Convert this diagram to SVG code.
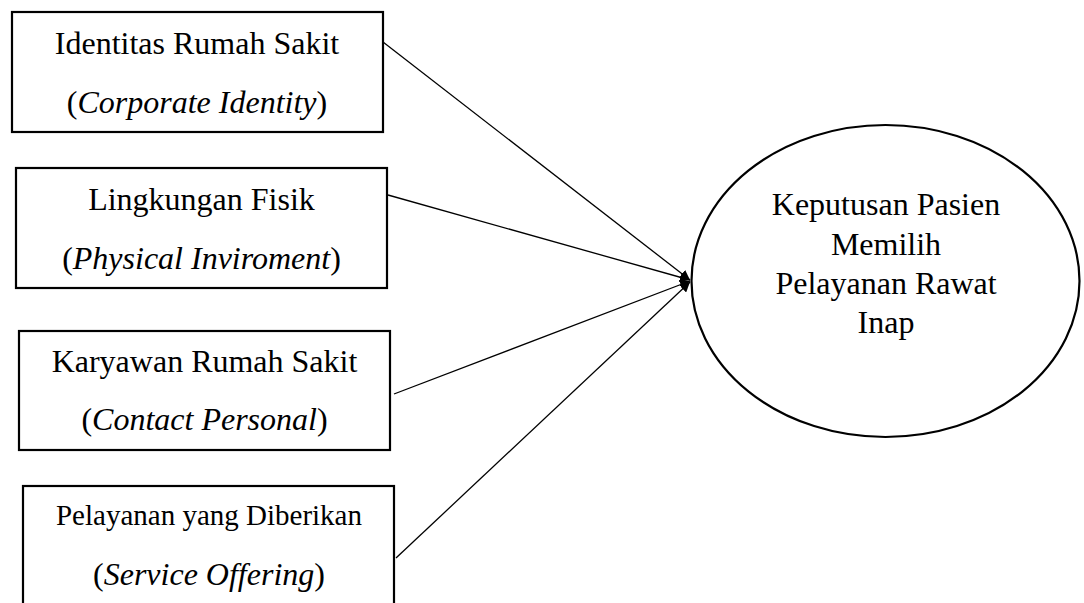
<svg xmlns="http://www.w3.org/2000/svg" width="1084" height="603" viewBox="0 0 1084 603">
<style>
.box{fill:#fff;stroke:#000;stroke-width:2.2}
.t{font-family:"Liberation Serif","Times New Roman",serif;font-size:32px;fill:#000;text-anchor:middle}
.s{font-size:29px}
.conn{stroke:#000;stroke-width:1.3;fill:none;marker-end:url(#ah)}
</style>
<defs>
<marker id="ah" viewBox="0 0 10 10" refX="10" refY="5" markerWidth="10" markerHeight="10" markerUnits="userSpaceOnUse" orient="auto">
<path d="M0,0 L10,5 L0,10 z" fill="#000"/>
</marker>
</defs>
<rect width="1084" height="603" fill="#fff"/>
<g id="connectors">
<line class="conn" x1="383" y1="42" x2="690" y2="280"/>
<line class="conn" x1="388" y1="195" x2="690" y2="280"/>
<line class="conn" x1="394" y1="394" x2="690" y2="281"/>
<line class="conn" x1="396" y1="558" x2="690" y2="282"/>
</g>
<g id="node1">
<rect class="box" x="12" y="12" width="371" height="120"/>
<text class="t" x="197" y="54">Identitas Rumah Sakit</text>
<text class="t" x="197" y="113">(<tspan font-style="italic">Corporate Identity</tspan>)</text>
</g>
<g id="node2">
<rect class="box" x="16" y="168" width="371" height="120"/>
<text class="t" x="201.5" y="210">Lingkungan Fisik</text>
<text class="t" x="201.5" y="269">(<tspan font-style="italic">Physical Inviroment</tspan>)</text>
</g>
<g id="node3">
<rect class="box" x="19" y="331" width="371" height="119"/>
<text class="t" x="204.5" y="372">Karyawan Rumah Sakit</text>
<text class="t" x="204.5" y="430">(<tspan font-style="italic">Contact Personal</tspan>)</text>
</g>
<g id="node4">
<rect class="box" x="23" y="486" width="371" height="130"/>
<text class="t s" x="209" y="525">Pelayanan yang Diberikan</text>
<text class="t" x="209" y="585">(<tspan font-style="italic">Service Offering</tspan>)</text>
</g>
<g id="node5">
<ellipse class="box" cx="885.5" cy="281" rx="194" ry="156"/>
<text class="t" x="886" y="215">Keputusan Pasien</text>
<text class="t" x="886" y="255">Memilih</text>
<text class="t" x="886" y="294">Pelayanan Rawat</text>
<text class="t" x="886" y="333">Inap</text>
</g>
</svg>
